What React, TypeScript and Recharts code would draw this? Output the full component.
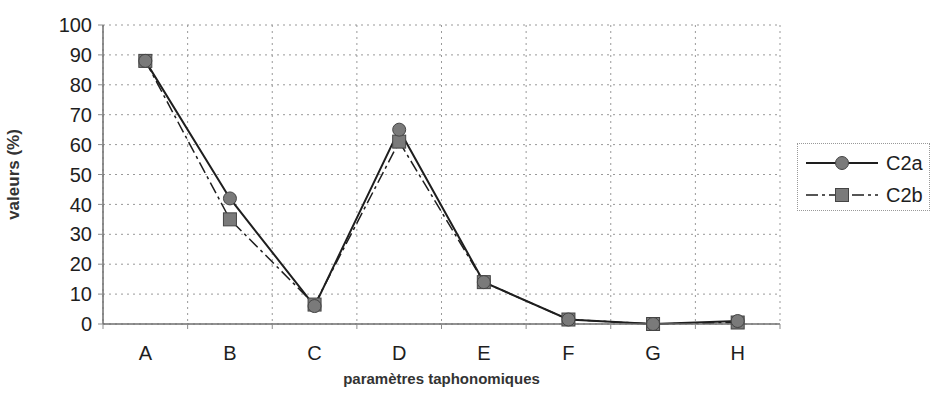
import React from 'react';
import {
  LineChart,
  Line,
  XAxis,
  YAxis,
  CartesianGrid,
} from 'recharts';

// categories on the x axis
const categories = ['A', 'B', 'C', 'D', 'E', 'F', 'G', 'H'];
// values in %
const c2a = [88, 42, 6, 65, 14, 1.5, 0, 1];
const c2b = [88, 35, 6.5, 61, 14, 1.5, 0, 0.5];
const yTicks = [0, 10, 20, 30, 40, 50, 60, 70, 80, 90, 100];
// category boundaries, used for the vertical grid and the tick marks
const bounds = [0, 1, 2, 3, 4, 5, 6, 7, 8];

const data = categories.map((cat, i) => ({ cat, C2a: c2a[i], C2b: c2b[i] }));
const catIndex = (d: any) => categories.indexOf(d.cat);

const FONT = '"Liberation Sans", Arial, sans-serif';
const INK = '#1e1e1e';
const MARK = '#7a7a7a';
const DASH_DOT = '12 4 3 4';

const CircleDot = (props: any) => {
  const { cx, cy } = props;
  if (cx == null || cy == null) return null;
  return <circle cx={cx} cy={cy} r={6.5} fill={MARK} stroke="#444" strokeWidth={1} />;
};

const SquareDot = (props: any) => {
  const { cx, cy } = props;
  if (cx == null || cy == null) return null;
  return <rect x={cx - 6.5} y={cy - 6.5} width={13} height={13} fill={MARK} stroke="#444" strokeWidth={1} />;
};

const LegendBox = () => (
  <div
    style={{
      position: 'absolute',
      left: 797,
      top: 143,
      width: 133,
      height: 68,
      boxSizing: 'border-box',
      border: '1px dotted #999',
      padding: '3px 0 0 6px',
      fontFamily: FONT,
      fontSize: 20,
      color: INK,
      background: '#fff',
    }}
  >
    <div style={{ display: 'flex', alignItems: 'center', height: 32 }}>
      <svg width={76} height={16}>
        <line x1={2} y1={8} x2={74} y2={8} stroke={INK} strokeWidth={2} />
        <circle cx={38} cy={8} r={6.5} fill={MARK} stroke="#444" />
      </svg>
      <span style={{ marginLeft: 6 }}>C2a</span>
    </div>
    <div style={{ display: 'flex', alignItems: 'center', height: 32 }}>
      <svg width={76} height={16}>
        <line x1={2} y1={8} x2={74} y2={8} stroke={INK} strokeWidth={1.5} strokeDasharray={DASH_DOT} />
        <rect x={31.5} y={1.5} width={13} height={13} fill={MARK} stroke="#444" />
      </svg>
      <span style={{ marginLeft: 6 }}>C2b</span>
    </div>
  </div>
);

export default function App() {
  return (
    <div style={{ position: 'absolute', left: 0, top: 0, width: 932, height: 410, background: '#fff' }}>
      <LineChart
        width={932}
        height={410}
        data={data}
        margin={{ top: 25, right: 152, left: 48, bottom: 55 }}
        style={{ fontFamily: FONT }}
      >
        <CartesianGrid xAxisId={0} stroke="#999" strokeDasharray="2 4" />
        <XAxis
          xAxisId={0}
          type="number"
          dataKey={catIndex}
          domain={[0, 8]}
          allowDataOverflow
          ticks={bounds}
          interval={0}
          tickFormatter={() => ''}
          tickSize={5}
          height={1}
          axisLine={{ stroke: '#6e6e6e', strokeWidth: 1.5 }}
          tickLine={{ stroke: '#8c8c8c' }}
        />
        <XAxis
          xAxisId={1}
          dataKey="cat"
          scale="band"
          height={30}
          axisLine={false}
          tickLine={false}
          tickSize={0}
          tickMargin={21}
          tick={{ fill: INK, fontSize: 20, fontFamily: FONT }}
          label={{
            value: 'paramètres taphonomiques',
            position: 'bottom',
            offset: 18,
            style: { fill: '#333', fontSize: 15, fontWeight: 'bold', fontFamily: FONT },
          }}
        />
        <YAxis
          domain={[0, 100]}
          ticks={yTicks}
          width={55}
          interval={0}
          tickSize={5}
          tickMargin={6}
          axisLine={{ stroke: '#6e6e6e', strokeWidth: 1.5 }}
          tickLine={{ stroke: '#8c8c8c' }}
          tick={{ fill: INK, fontSize: 20, fontFamily: FONT }}
          label={{
            value: 'valeurs (%)',
            angle: -90,
            position: 'insideLeft',
            offset: -35,
            style: { fill: '#333', fontSize: 17, fontWeight: 'bold', fontFamily: FONT, textAnchor: 'middle' },
          }}
        />
        <Line
          xAxisId={1}
          dataKey="C2b"
          stroke={INK}
          strokeWidth={1.5}
          strokeDasharray={DASH_DOT}
          dot={<SquareDot />}
          activeDot={false}
          isAnimationActive={false}
        />
        <Line
          xAxisId={1}
          dataKey="C2a"
          stroke={INK}
          strokeWidth={2}
          dot={<CircleDot />}
          activeDot={false}
          isAnimationActive={false}
        />
      </LineChart>
      <LegendBox />
    </div>
  );
}
